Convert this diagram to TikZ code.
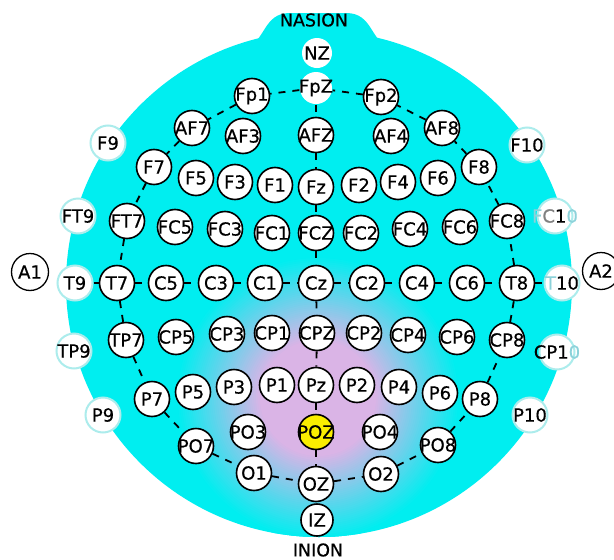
\documentclass[tikz,border=0pt]{standalone}
\usepackage{fontspec}
\setmainfont{DejaVu Sans}
\newfontfamily\lblfont{DejaVu Sans}[FakeBold=0.5]
\definecolor{headc}{RGB}{0,238,240}
\definecolor{pinkc}{RGB}{218,180,230}
\definecolor{rimc}{RGB}{172,236,236}
\definecolor{fadec}{RGB}{140,210,218}
\definecolor{yelc}{RGB}{250,238,0}
\tikzset{
  el/.style={circle, draw=black, line width=1.6pt, fill=white, minimum size=35pt, inner sep=0pt,
    font=\lblfont\fontsize{18}{18}\selectfont,
    execute at begin node={\hbox to 0pt\bgroup\hss}, execute at end node={\hss\egroup}},
  rim/.style={el, draw=rimc, line width=2pt},
  bare/.style={el, draw=none},
  ear/.style={el, line width=1.3pt, minimum size=37pt},
  hot/.style={el, fill=yelc},
  link/.style={line width=1.8pt, dash pattern=on 7pt off 7pt},
  title/.style={font=\lblfont\fontsize{17.5}{17.5}\selectfont, inner sep=0pt}
}
\begin{document}
\begin{tikzpicture}[x=1pt,y=-1pt]
\useasboundingbox (0,0) rectangle (614,560);
% head
\fill[headc] (319,284) circle (253pt);
\fill[headc] (246,48) .. controls (266,41) and (263,13) .. (290,13) -- (346,13) .. controls (373,13) and (370,41) .. (390,48) -- cycle;
\begin{scope}
  \clip (319,284) circle (253pt);
  \foreach \r in {142,140,...,58} {
    \pgfmathsetmacro{\t}{(142-\r)/84*100}
    \fill[pinkc!\t!headc] (318,398) circle (\r pt);
  }
  \fill[pinkc] (318,398) circle (57pt);
\end{scope}
\node[title] (nasion) at (314,20) {NASION};
\node[title] (inion) at (318,550) {INION};
% electrodes
\node[bare, minimum size=30pt] (NZ) at (317,53) {NZ};
\node[bare, minimum size=32pt] (FpZ) at (316,88) {FpZ};
\node[el] (Fp1) at (252,96) {Fp1};
\node[el] (Fp2) at (381,97) {Fp2};
\node[el] (AF7) at (192,128) {AF7};
\node[el] (AF3) at (243,136) {AF3};
\node[el] (AFZ) at (316,135) {AFZ};
\node[el] (AF4) at (391,136) {AF4};
\node[el] (AF8) at (442,128) {AF8};
\node[rim] (F9) at (108,143) {F9};
\node[rim] (F10) at (527,145) {F10};
\node[el] (F7) at (154,167) {F7};
\node[el] (F5) at (196,178) {F5};
\node[el] (F3) at (235,182) {F3};
\node[el] (F1) at (275,185) {F1};
\node[el] (Fz) at (316,187) {Fz};
\node[el] (F2) at (359,185) {F2};
\node[el] (F4) at (398,182) {F4};
\node[el] (F6) at (438,178) {F6};
\node[el] (F8) at (479,167) {F8};
\node[rim] (FT9) at (78,216) {FT9};
\node[el] (FT7) at (127,221) {FT7};
\node[el] (FC5) at (175,227) {FC5};
\node[el] (FC3) at (225,229) {FC3};
\node[el] (FC1) at (272,233) {FC1};
\node[el] (FCZ) at (316,233) {FCZ};
\node[el] (FC2) at (361,233) {FC2};
\node[el] (FC4) at (410,229) {FC4};
\node[el] (FC6) at (460,227) {FC6};
\node[el] (FC8) at (507,221) {FC8};
\node[rim] (FC10) at (555,216) {{\color{fadec}F}{\color{gray}C}1{\color{fadec}0}};
\node[ear] (A1) at (30,272) {A1};
\node[rim] (T9) at (75,283) {T9};
\node[el] (T7) at (117,283) {T7};
\node[el] (C5) at (166,283) {C5};
\node[el] (C3) at (216,283) {C3};
\node[el] (C1) at (265,283) {C1};
\node[el] (Cz) at (316,283) {Cz};
\node[el] (C2) at (367,283) {C2};
\node[el] (C4) at (417,283) {C4};
\node[el] (C6) at (467,283) {C6};
\node[el] (T8) at (517,283) {T8};
\node[rim] (T10) at (562,283) {{\color{fadec}T}10};
\node[ear] (A2) at (601,271) {A2};
\node[rim] (TP9) at (74,351) {TP9};
\node[el] (TP7) at (126,340) {TP7};
\node[el] (CP5) at (176,337) {CP5};
\node[el] (CP3) at (227,334) {CP3};
\node[el] (CP1) at (272,333) {CP1};
\node[el] (CPZ) at (317,333) {CPZ};
\node[el] (CP2) at (364,333) {CP2};
\node[el] (CP4) at (408,335) {CP4};
\node[el] (CP6) at (457,337) {CP6};
\node[el] (CP8) at (507,340) {CP8};
\node[rim] (CP10) at (557,352) {CP1{\color{fadec}0}};
\node[rim] (P9) at (103,415) {P9};
\node[el] (P7) at (152,399) {P7};
\node[el] (P5) at (193,392) {P5};
\node[el] (P3) at (234,387) {P3};
\node[el] (P1) at (277,385) {P1};
\node[el] (Pz) at (316,385) {Pz};
\node[el] (P2) at (357,385) {P2};
\node[el] (P4) at (399,387) {P4};
\node[el] (P6) at (440,393) {P6};
\node[el] (P8) at (480,399) {P8};
\node[rim] (P10) at (530,415) {P10};
\node[el] (PO7) at (196,446) {PO7};
\node[el] (PO3) at (248,432) {PO3};
\node[hot] (POZ) at (316,432) {POZ};
\node[el] (PO4) at (380,432) {PO4};
\node[el] (PO8) at (438,445) {PO8};
\node[el] (O1) at (254,473) {O1};
\node[el] (OZ) at (316,484) {OZ};
\node[el] (O2) at (381,474) {O2};
\node[el, minimum size=32pt] (IZ) at (317,520) {IZ};
% connectors
\foreach \a/\b in {FpZ/Fp1, Fp1/AF7, AF7/F7, F7/FT7, FT7/T7, T7/TP7, TP7/P7, P7/PO7, PO7/O1, O1/OZ,
  OZ/O2, O2/PO8, PO8/P8, P8/CP8, CP8/T8, T8/FC8, FC8/F8, F8/AF8, AF8/Fp2, Fp2/FpZ,
  FpZ/AFZ, AFZ/Fz, Fz/FCZ, FCZ/Cz, Cz/CPZ, CPZ/Pz, Pz/POZ, POZ/OZ,
  T9/T7, T7/C5, C5/C3, C3/C1, C1/Cz, Cz/C2, C2/C4, C4/C6, C6/T8, T8/T10}
  \draw[link] (\a) -- (\b);
\end{tikzpicture}
\end{document}
